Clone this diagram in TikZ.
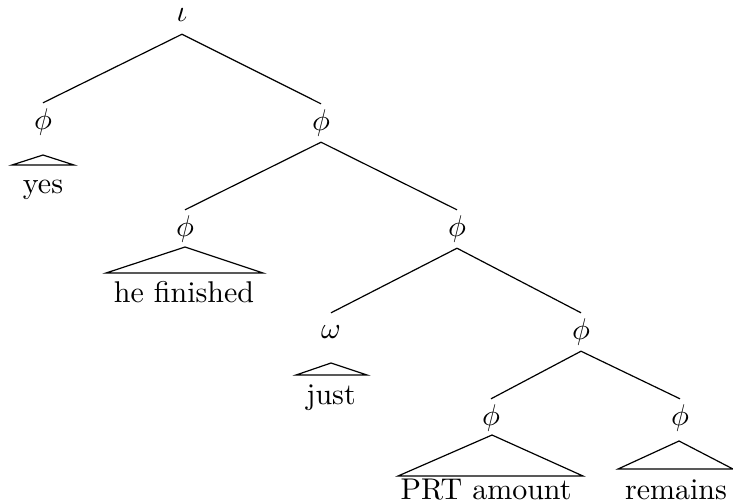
\documentclass[tikz,border=0pt]{standalone}
\begin{document}
\begin{tikzpicture}[x=0.3333pt,y=-0.3333pt,
  lab/.style={inner sep=0pt, minimum height=12.4pt},
  leaf/.style={inner sep=0pt, anchor=base},
  tri/.style={line width=0.4pt, line join=miter},
  edge/.style={line width=0.4pt}]
\useasboundingbox (0,0) rectangle (733,501);
% category labels
\node[lab] (i)  at (182,15)  {$\iota$};
\node[lab] (p1) at (43,122)  {$\phi$};
\node[lab] (p2) at (321,123) {$\phi$};
\node[lab] (p3) at (185,229) {$\phi$};
\node[lab] (p4) at (457,229) {$\phi$};
\node[lab] (w)  at (331,332) {$\omega$};
\node[lab] (p5) at (581,332) {$\phi$};
\node[lab] (p6) at (491,418) {$\phi$};
\node[lab] (p7) at (680,418) {$\phi$};
% branches
\draw[edge] (i.south) -- (p1.north);
\draw[edge] (i.south) -- (p2.north);
\draw[edge] (p2.south) -- (p3.north);
\draw[edge] (p2.south) -- (p4.north);
\draw[edge] (p4.south) -- (w.north);
\draw[edge] (p4.south) -- (p5.north);
\draw[edge] (p5.south) -- (p6.north);
\draw[edge] (p5.south) -- (p7.north);
% triangles
\draw[tri] (12,165) -- (43,155) -- (74,165) -- cycle;
\draw[tri] (106,273) -- (185,247) -- (263,273) -- cycle;
\draw[tri] (296,375) -- (331,363) -- (367,375) -- cycle;
\draw[tri] (398,476) -- (492,435) -- (583,476) -- cycle;
\draw[tri] (618,469) -- (679,441) -- (733,469) -- cycle;
% leaves
\node[leaf] (l1) at (43,193)  {yes};
\node[leaf] (l2) at (184,302) {he finished};
\node[leaf] (l3) at (331,404) {just};
\node[leaf] (l4) at (486,499) {PRT amount};
\node[leaf] (l5) at (676,499) {remains};
\end{tikzpicture}
\end{document}
